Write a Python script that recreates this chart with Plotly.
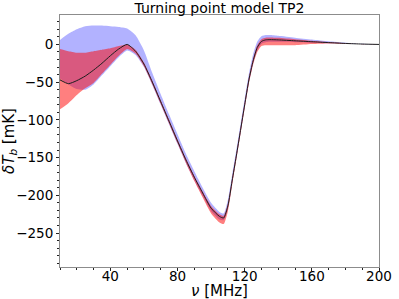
import plotly.graph_objects as go

nu = [10, 15, 20, 25, 30, 35, 40, 45, 50, 55, 60, 65, 70, 75, 80, 85, 90, 95, 100, 105, 107.5,
      110, 112.5, 115, 117.5, 120, 122.5, 125, 127.5, 130, 132.5, 135, 140, 150, 160, 170, 180, 190, 200]

mean_T = [-47, -52, -48, -42, -34, -25, -15, -6, 0, -9, -26, -50, -76, -102, -128, -153, -176, -197, -217, -228, -230,
          -214, -181, -148, -114, -80, -47, -22, -4, 4, 6, 6.3, 6, 4.8, 3.6, 2.4, 1.3, 0.5, 0]

blue_hi = [6, 14, 20, 24, 25, 25, 24, 23, 21, 12, -8, -38, -66, -93, -119, -145, -168, -190, -210, -222, -224,
           -206, -173, -140, -106, -72, -39, -13, 4, 11, 12.5, 12.5, 11.5, 9, 6.5, 4.2, 2.3, 0.8, 0]
blue_lo = [-45, -53, -59, -60, -53, -41, -29, -17, -8, -14, -30, -54, -80, -106, -132, -157, -180, -201, -221, -232, -233,
           -218, -185, -152, -118, -84, -51, -26, -8, 1, 3, 3.5, 3.5, 3, 2.3, 1.5, 0.8, 0.3, 0]

red_hi = [-6, -9, -11, -11, -9, -7, -5, -2, 0, -7, -24, -48, -74, -100, -126, -151, -174, -195, -214, -225, -227,
          -211, -178, -145, -111, -77, -44, -19, -1, 7, 9, 9.3, 8.8, 7, 5, 3.2, 1.7, 0.6, 0]
red_lo = [-86, -78, -67, -58, -51, -39, -27, -15, -6, -12, -29, -53, -79, -105, -131, -157, -181, -203, -224, -236, -238,
          -221, -187, -153, -119, -85, -52, -27, -10, -2, -1, -1, -1, -1, 0.5, 1.2, 0.8, 0.3, 0]

x_ticks = [40, 80, 120, 160, 200]
y_ticks = [0, -50, -100, -150, -200, -250]

FONT = "DejaVu Sans"

fig = go.Figure()


def band(lo, hi, color):
    fig.add_trace(go.Scatter(
        x=nu + nu[::-1], y=hi + lo[::-1], fill="toself", fillcolor=color,
        line=dict(width=0, shape="spline", smoothing=0.6), mode="lines",
        hoverinfo="skip", showlegend=False))


band(blue_lo, blue_hi, "rgba(0,0,255,0.3)")
band(red_lo, red_hi, "rgba(255,0,0,0.5)")

fig.add_trace(go.Scatter(x=nu, y=mean_T, mode="lines",
                         line=dict(color="rgb(30,30,30)", width=1, shape="spline", smoothing=0.6),
                         showlegend=False))

axis_common = dict(showline=True, linecolor="#8c8c8c", linewidth=1, mirror=True,
                   ticks="outside", ticklen=3, tickwidth=1, tickcolor="#222",
                   showgrid=False, zeroline=False, automargin=False,
                   tickfont=dict(family=FONT, size=13.5, color="black"))

fig.update_xaxes(range=[10, 200], tickvals=x_ticks, ticklabelstandoff=-6,
                 minor=dict(ticks="outside", ticklen=2, tickcolor="#222", dtick=10, tick0=0, showgrid=False),
                 **axis_common)
fig.update_yaxes(range=[-295, 39], tickvals=y_ticks,
                 minor=dict(ticks="outside", ticklen=2, tickcolor="#222", dtick=10, tick0=0, showgrid=False),
                 title=dict(text="<i>δT</i><sub><i>b</i></sub> [mK]", font=dict(family=FONT, size=15, color="black"), standoff=2),
                 **axis_common)

fig.add_annotation(text="<i>ν</i> [MHz]", xref="paper", yref="paper", x=0.5, y=-0.097,
                   xanchor="center", yanchor="middle", showarrow=False,
                   font=dict(family=FONT, size=15, color="black"))

fig.update_layout(
    width=399, height=299,
    margin=dict(l=60, r=20, t=15, b=32),
    paper_bgcolor="white", plot_bgcolor="white",
    title=dict(text="Turning point model TP2", x=0.5, xanchor="center", xref="paper",
               yref="container", y=0.972, yanchor="middle", font=dict(family=FONT, size=14, color="black")),
)

fig.write_html("out.html", config={"displayModeBar": False},
               post_script="document.body.style.margin='0';document.body.style.overflow='hidden';")
